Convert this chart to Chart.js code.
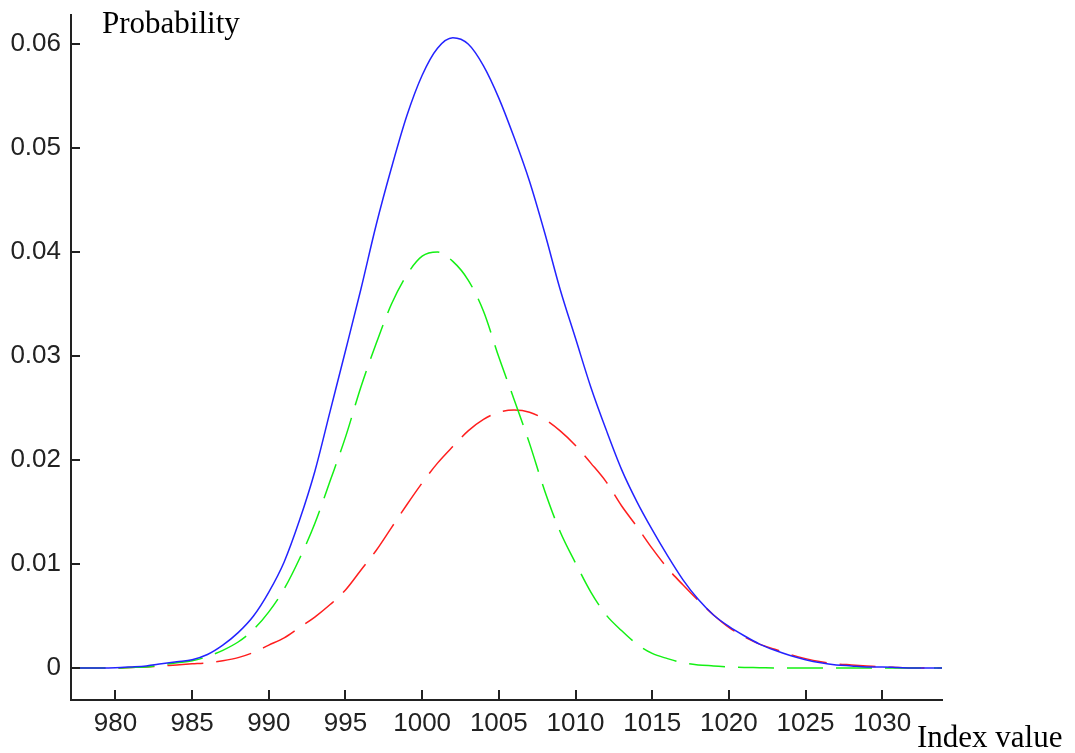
<!DOCTYPE html>
<html>
<head>
<meta charset="utf-8">
<script src="https://cdn.jsdelivr.net/npm/chart.js@4.4.1/dist/chart.umd.min.js"></script>
<style>
html,body{margin:0;padding:0;background:#fff;}
#wrap{position:relative;width:1075px;height:753px;}
</style>
</head>
<body>
<div id="wrap"><canvas id="c" width="1075" height="753"></canvas></div>
<script>
const indexValues = [977,978,979,980,981,982,983,984,985,986,987,988,989,990,991,992,993,994,995,996,997,998,999,1000,1001,1002,1003,1004,1005,1006,1007,1008,1009,1010,1011,1012,1013,1014,1015,1016,1017,1018,1019,1020,1021,1022,1023,1024,1025,1026,1027,1028,1029,1030,1031,1032,1033,1034];
const blueTotal = [0,0,0,0.00002,0.0001,0.0002,0.0004,0.0006,0.0008,0.0013,0.0022,0.0034,0.0050,0.0073,0.0102,0.0142,0.0189,0.0247,0.0305,0.0364,0.0426,0.0481,0.0531,0.0570,0.0596,0.0606,0.0600,0.0579,0.0548,0.0510,0.0468,0.0418,0.0364,0.0317,0.0270,0.0229,0.0191,0.0160,0.0133,0.0108,0.0085,0.0066,0.0051,0.0040,0.0031,0.0023,0.0017,0.0012,0.0008,0.0005,0.0003,0.0002,0.0001,0.0001,0.00005,0,0,0];
const greenSeries = [0,0,0,0,0.00005,0.0001,0.0003,0.0005,0.0007,0.0011,0.0017,0.0025,0.0037,0.0054,0.0076,0.0105,0.0139,0.0180,0.0222,0.0270,0.0312,0.0350,0.0378,0.0396,0.0400,0.0391,0.0373,0.0343,0.0299,0.0258,0.0216,0.0170,0.0131,0.0101,0.0073,0.0051,0.0036,0.0023,0.0014,0.0009,0.0005,0.0003,0.0002,0.0001,0.00005,0.00003,0,0,0,0,0,0,0,0,0,0,0,0];
const redSeries = [0,0,0,0,0.00005,0.0001,0.0002,0.0003,0.0004,0.0005,0.0007,0.0010,0.0015,0.0022,0.0029,0.0039,0.0049,0.0061,0.0075,0.0094,0.0113,0.0135,0.0157,0.0178,0.0197,0.0213,0.0228,0.0239,0.0246,0.0248,0.0246,0.0239,0.0228,0.0214,0.0197,0.0179,0.0156,0.0136,0.0115,0.0096,0.0080,0.0065,0.0051,0.0039,0.0030,0.0023,0.0018,0.0013,0.0009,0.0006,0.0004,0.0003,0.0002,0.0001,0.00005,0,0,0];
const xTicks = [980,985,990,995,1000,1005,1010,1015,1020,1025,1030];
const yTicks = [0,0.01,0.02,0.03,0.04,0.05,0.06];
const yTickLabels = ['0','0.01','0.02','0.03','0.04','0.05','0.06'];
const yTitle = 'Probability';
const xTitle = 'Index value';

const pts = arr => arr.map((v,i)=>({x:indexValues[i], y:v}));
const tickFont = {family:"'Liberation Sans',Arial,sans-serif", size:26};

const decor = {
  id:'decor',
  afterDraw(chart){
    const {ctx, chartArea:a, scales:{x,y}} = chart;
    ctx.save();
    ctx.strokeStyle = '#222';
    ctx.lineWidth = 2;
    ctx.beginPath();
    xTicks.forEach(v=>{const px = Math.round(x.getPixelForValue(v)); ctx.moveTo(px, a.bottom); ctx.lineTo(px, a.bottom-10);});
    yTicks.forEach(v=>{const py = Math.round(y.getPixelForValue(v)); ctx.moveTo(a.left, py); ctx.lineTo(a.left+9, py);});
    ctx.stroke();
    ctx.fillStyle = '#000';
    ctx.font = "31px 'Liberation Serif','Times New Roman',serif";
    ctx.textBaseline = 'alphabetic';
    ctx.textAlign = 'left';
    ctx.fillText(yTitle, 102, 33);
    ctx.fillText(xTitle, 917, 747);
    ctx.restore();
  }
};

new Chart(document.getElementById('c'), {
  type:'line',
  data:{
    datasets:[
      {label:'Total', data:pts(blueTotal), borderColor:'rgb(35,35,255)', borderWidth:1.5, pointRadius:0, cubicInterpolationMode:'monotone', fill:false},
      {label:'Green', data:pts(greenSeries), borderColor:'rgb(20,240,20)', borderWidth:1.5, borderDash:[36,13], pointRadius:0, cubicInterpolationMode:'monotone', fill:false},
      {label:'Red', data:pts(redSeries), borderColor:'rgb(255,30,30)', borderWidth:1.5, borderDash:[36,13], pointRadius:0, cubicInterpolationMode:'monotone', fill:false}
    ]
  },
  options:{
    responsive:false,
    animation:false,
    events:[],
    layout:{padding:{left:0, right:133, top:15, bottom:0}},
    plugins:{legend:{display:false}, tooltip:{enabled:false}},
    scales:{
      x:{
        type:'linear', min:977.1, max:1033.9,
        afterBuildTicks: s => { s.ticks = xTicks.map(v=>({value:v})); },
        afterFit: s => { s.height = 53; s.paddingLeft = 0; s.paddingRight = 0; },
        grid:{display:false, drawTicks:false},
        border:{display:true, color:'#222', width:2},
        ticks:{color:'#222', font:tickFont, padding:8, maxRotation:0, autoSkip:false, callback:v=>String(v)}
      },
      y:{
        type:'linear', min:-0.003077, max:0.06279,
        afterBuildTicks: s => { s.ticks = yTicks.map(v=>({value:v})); },
        afterFit: s => { s.width = 71; s.paddingTop = 0; s.paddingBottom = 0; },
        grid:{display:false, drawTicks:false},
        border:{display:true, color:'#222', width:2},
        ticks:{color:'#222', font:tickFont, padding:10, autoSkip:false, callback:(v,i)=>yTickLabels[i]}
      }
    }
  },
  plugins:[decor]
});
</script>
</body>
</html>
